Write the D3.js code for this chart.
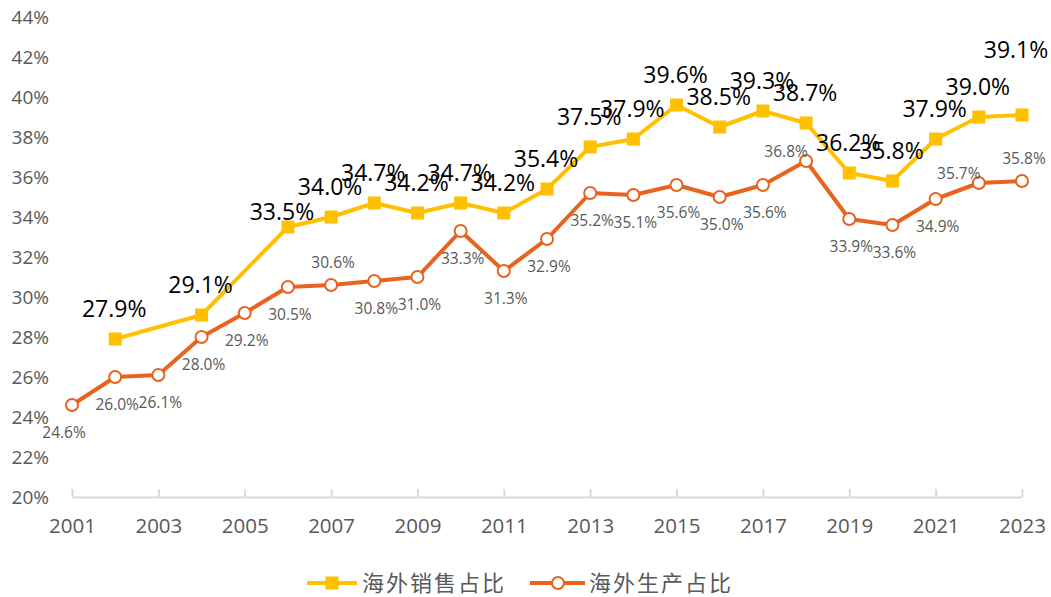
<!DOCTYPE html>
<html>
<head>
<meta charset="utf-8">
<script src="https://cdn.jsdelivr.net/npm/d3@7"></script>
<style>
  body { margin: 0; background: #fff; }
  svg { display: block; }
</style>
</head>
<body>
<div class="chart"></div>
<script>
var svgWidth = 1051;
var svgHeight = 597;

// data
var years = d3.range(2001, 2024);
var salesYears = [2002, 2004, 2006, 2007, 2008, 2009, 2010, 2011, 2012, 2013, 2014, 2015,
                  2016, 2017, 2018, 2019, 2020, 2021, 2022, 2023];
var salesShare = [27.9, 29.1, 33.5, 34.0, 34.7, 34.2, 34.7, 34.2, 35.4, 37.5, 37.9, 39.6,
                  38.5, 39.3, 38.7, 36.2, 35.8, 37.9, 39.0, 39.1];
var prodShare = [24.6, 26.0, 26.1, 28.0, 29.2, 30.5, 30.6, 30.8, 31.0, 33.3, 31.3, 32.9,
                 35.2, 35.1, 35.6, 35.0, 35.6, 36.8, 33.9, 33.6, 34.9, 35.7, 35.8];
var yTicks = [20, 22, 24, 26, 28, 30, 32, 34, 36, 38, 40, 42, 44];
var xTicks = [2001, 2003, 2005, 2007, 2009, 2011, 2013, 2015, 2017, 2019, 2021, 2023];
var seriesNames = ["海外销售占比", "海外生产占比"];

// label placement tweaks (layout only)
var prodLabelAbove = [2007, 2023];
var prodLabelLeft = [2018, 2022];

var yellow = "#FFC000";
var orange = "#E8631E";
var grey = "#595959";

var margin = { top: 17, right: 29, bottom: 100, left: 72 };
var width = svgWidth - margin.left - margin.right;
var height = 497 - margin.top;

var svg = d3.select(".chart")
  .append("svg")
  .attr("width", svgWidth)
  .attr("height", svgHeight);

var chart = svg.append("g")
  .attr("transform", "translate(" + margin.left + "," + margin.top + ")");

var xScale = d3.scaleLinear().domain([2001, 2023]).range([0, width]);
var yScale = d3.scaleLinear().domain([20, 44]).range([height, 0]);

// y labels, no axis line
chart.append("g")
  .selectAll("text")
  .data(yTicks)
  .enter().append("text")
    .attr("x", -23)
    .attr("y", function(d) { return yScale(d); })
    .attr("dy", "0.35em")
    .attr("text-anchor", "end")
    .style("font-family", "'Open Sans', sans-serif")
    .style("font-size", "19px")
    .style("fill", grey)
    .text(function(d) { return d + "%"; });

// x axis
var bottomAxis = d3.axisBottom(xScale)
  .tickValues(xTicks)
  .tickFormat(d3.format("d"))
  .tickSizeInner(-8)
  .tickSizeOuter(0)
  .tickPadding(21);

var xAxis = chart.append("g")
  .attr("transform", "translate(0," + height + ")")
  .call(bottomAxis);
xAxis.select(".domain").attr("stroke", "#d9d9d9").attr("stroke-width", 2);
xAxis.selectAll(".tick line").attr("stroke", "#d9d9d9").attr("stroke-width", 2);
xAxis.selectAll(".tick text")
  .style("font-family", "'Open Sans', sans-serif")
  .style("font-size", "20.5px")
  .style("fill", grey);

var sales = salesYears.map(function(y, i) { return { year: y, value: salesShare[i] }; });
var prod = years.map(function(y, i) { return { year: y, value: prodShare[i] }; });

var line = d3.line()
  .x(function(d) { return xScale(d.year); })
  .y(function(d) { return yScale(d.value); });

// production line
chart.append("path")
  .datum(prod)
  .attr("d", line)
  .attr("fill", "none")
  .attr("stroke", orange)
  .attr("stroke-width", 4)
  .attr("stroke-linejoin", "round");

// sales line
chart.append("path")
  .datum(sales)
  .attr("d", line)
  .attr("fill", "none")
  .attr("stroke", yellow)
  .attr("stroke-width", 4)
  .attr("stroke-linejoin", "round");

chart.selectAll("circle.prod")
  .data(prod)
  .enter().append("circle")
    .attr("class", "prod")
    .attr("cx", function(d) { return xScale(d.year); })
    .attr("cy", function(d) { return yScale(d.value); })
    .attr("r", 6)
    .attr("fill", "#fff")
    .attr("stroke", orange)
    .attr("stroke-width", 2);

chart.selectAll("rect.sales")
  .data(sales)
  .enter().append("rect")
    .attr("class", "sales")
    .attr("x", function(d) { return xScale(d.year) - 6.5; })
    .attr("y", function(d) { return yScale(d.value) - 6.5; })
    .attr("width", 13)
    .attr("height", 13)
    .attr("fill", yellow);

// production labels
chart.selectAll("text.prodLabel")
  .data(prod)
  .enter().append("text")
    .attr("class", "prodLabel")
    .attr("x", function(d) {
      if (prodLabelLeft.indexOf(d.year) >= 0) return xScale(d.year) - 20;
      if (d.year === 2001) return xScale(d.year) - 8;
      return xScale(d.year) + 2;
    })
    .attr("y", function(d) {
      if (prodLabelAbove.indexOf(d.year) >= 0) return yScale(d.value) - 22;
      if (prodLabelLeft.indexOf(d.year) >= 0) return yScale(d.value) - 9;
      return yScale(d.value) + 28;
    })
    .attr("dy", "0.35em")
    .attr("text-anchor", "middle")
    .style("font-family", "'Open Sans', sans-serif")
    .style("font-size", "15.5px")
    .style("fill", grey)
    .text(function(d) { return d.value.toFixed(1) + "%"; });

// sales labels
chart.selectAll("text.salesLabel")
  .data(sales)
  .enter().append("text")
    .attr("class", "salesLabel")
    .attr("x", function(d) {
      if (d.year === 2006) return xScale(d.year) - 6;
      if (d.year === 2023) return xScale(d.year) - 6;
      return xScale(d.year) - 1;
    })
    .attr("y", function(d) {
      if (d.year === 2006) return yScale(d.value) - 15;
      if (d.year === 2023) return yScale(d.value) - 65;
      return yScale(d.value) - 30;
    })
    .attr("dy", "0.35em")
    .attr("text-anchor", "middle")
    .style("font-family", "'Open Sans', sans-serif")
    .style("font-size", "23px")
    .style("fill", "#000")
    .text(function(d) { return d.value.toFixed(1) + "%"; });

// legend
var legend = svg.append("g").attr("transform", "translate(0,583)");

legend.append("line")
  .attr("x1", 307).attr("x2", 357)
  .attr("stroke", yellow).attr("stroke-width", 4);
legend.append("rect")
  .attr("x", 325.5).attr("y", -6.5).attr("width", 13).attr("height", 13)
  .attr("fill", yellow);
legend.append("text")
  .attr("x", 362).attr("dy", "0.35em")
  .style("font-family", "'Noto Sans CJK SC', sans-serif")
  .style("font-size", "22px")
  .style("letter-spacing", "2px")
  .style("fill", grey)
  .text(seriesNames[0]);

legend.append("line")
  .attr("x1", 530).attr("x2", 585)
  .attr("stroke", orange).attr("stroke-width", 4);
legend.append("circle")
  .attr("cx", 558).attr("r", 6)
  .attr("fill", "#fff").attr("stroke", orange).attr("stroke-width", 2);
legend.append("text")
  .attr("x", 589).attr("dy", "0.35em")
  .style("font-family", "'Noto Sans CJK SC', sans-serif")
  .style("font-size", "22px")
  .style("letter-spacing", "2px")
  .style("fill", grey)
  .text(seriesNames[1]);
</script>
</body>
</html>
